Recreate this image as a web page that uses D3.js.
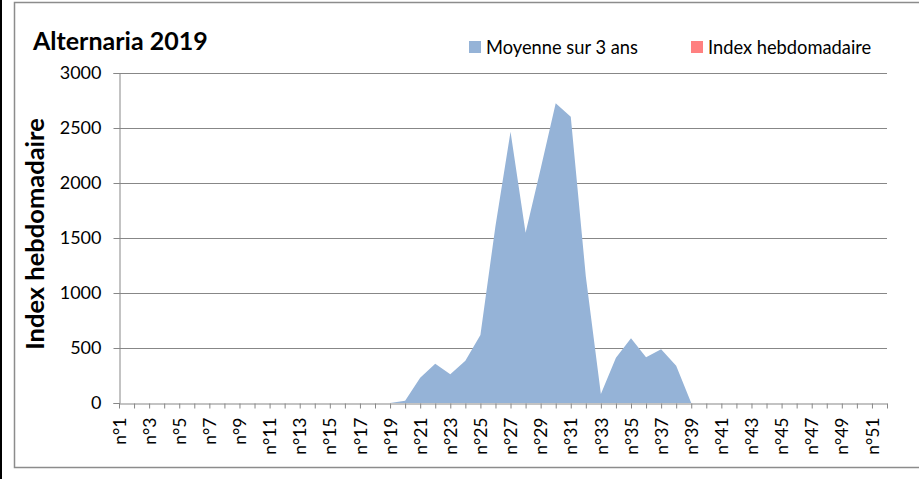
<!DOCTYPE html>
<html>
<head>
<meta charset="utf-8">
<script src="https://d3js.org/d3.v7.min.js"></script>
<style>
  body { margin: 0; background: #fff; }
  svg text { font-family: Lato, "Open Sans", sans-serif; fill: #000; }
</style>
</head>
<body>
<svg id="chart" width="919" height="479"></svg>
<script>
//===== Data =====================================================
const weeks = d3.range(1, 53).map((i) => "n°" + i);
// moyenne sur 3 ans, weeks n°1 .. n°52
const moyenne3ans = [
  0, 0, 0, 0, 0, 0, 0, 0, 0, 0,
  0, 0, 0, 0, 0, 0, 0, 0, 0, 20,
  230, 357, 261, 385, 618, 1610, 2467, 1548, 2130, 2724,
  2603, 1150, 82, 412, 588, 415, 488, 339, 0, 0,
  0, 0, 0, 0, 0, 0, 0, 0, 0, 0,
  0, 0,
];
// index hebdomadaire 2019: no values yet (legend only)
const indexHebdo = [];
const yTicks = [0, 500, 1000, 1500, 2000, 2500, 3000];
const seriesNames = ["Moyenne sur 3 ans", "Index hebdomadaire"];
const seriesColors = ["#95b3d7", "#ff8080"];

//===== Layout ===================================================
const svg = d3.select("#chart");
const margin = { top: 73, right: 32, bottom: 76, left: 119 };
const width = +svg.attr("width") - margin.left - margin.right,
  height = +svg.attr("height") - margin.top - margin.bottom;

// chart frame
svg
  .append("rect")
  .attr("x", 14.5)
  .attr("y", 2.5)
  .attr("width", 940)
  .attr("height", 465)
  .attr("fill", "none")
  .attr("stroke", "#8c8c8c")
  .attr("stroke-width", 1.5);
svg
  .append("line")
  .attr("x1", 1)
  .attr("x2", 1)
  .attr("y1", 0)
  .attr("y2", 479)
  .attr("stroke", "#000")
  .attr("stroke-width", 2);

const g = svg
  .append("g")
  .attr("transform", "translate(" + margin.left + "," + margin.top + ")");

const xScale = d3.scalePoint().domain(weeks).range([0, width]);
const yScale = d3.scaleLinear().domain([0, 3000]).range([height, 0]);

//===== Grid =====================================================
g.append("g")
  .selectAll("line")
  .data(yTicks.slice(1))
  .enter()
  .append("line")
  .attr("x1", 0)
  .attr("x2", width)
  .attr("y1", (d) => yScale(d) + 0.5)
  .attr("y2", (d) => yScale(d) + 0.5)
  .attr("stroke", "#878787");

//===== Areas ====================================================
const area = d3
  .area()
  .defined((d) => d != null)
  .x((d, i) => xScale(weeks[i]))
  .y0(yScale(0))
  .y1((d) => yScale(d));

g.append("path")
  .datum(moyenne3ans)
  .attr("d", area)
  .attr("fill", seriesColors[0]);

g.append("path")
  .datum(indexHebdo)
  .attr("d", area)
  .attr("fill", seriesColors[1]);

//===== Axes =====================================================
const yAxis = d3
  .axisLeft(yScale)
  .tickValues(yTicks)
  .tickFormat(d3.format("d"))
  .tickSize(6)
  .tickPadding(12);
const yAxisG = g.append("g").attr("transform", "translate(0.5,0)").call(yAxis);
yAxisG.selectAll("line, path").attr("stroke", "#878787");
yAxisG.selectAll("text").style("font-size", "18px");

const xAxis = d3
  .axisBottom(xScale)
  .tickSize(5)
  .tickSizeOuter(0)
  .tickFormat((d, i) => (i % 2 == 0 ? d : ""));
const xAxisG = g
  .append("g")
  .attr("transform", `translate(0,${height + 0.5})`)
  .call(xAxis);
xAxisG.selectAll("line, path").attr("stroke", "#878787");
xAxisG
  .selectAll("text")
  .style("font-size", "17.5px")
  .attr("text-anchor", "end")
  .attr("dy", "0.35em")
  .attr("y", 0)
  .attr("x", -14)
  .attr("transform", "rotate(-90)");

//===== Titles ===================================================
svg
  .append("text")
  .attr("x", 33)
  .attr("y", 50)
  .style("font-size", "25px")
  .style("font-weight", "bold")
  .text("Alternaria 2019");

svg
  .append("text")
  .attr("transform", "translate(44,234) rotate(-90)")
  .attr("text-anchor", "middle")
  .style("font-size", "25.5px")
  .style("font-weight", "bold")
  .text("Index hebdomadaire");

//===== Legend ===================================================
const legendX = [469, 691];
const legend = svg
  .selectAll(".legend")
  .data(seriesNames)
  .enter()
  .append("g")
  .attr("class", "legend")
  .attr("transform", (d, i) => `translate(${legendX[i]},41)`);
legend
  .append("rect")
  .attr("width", 12)
  .attr("height", 12)
  .attr("fill", (d, i) => seriesColors[i]);
legend
  .append("text")
  .attr("x", 17)
  .attr("y", 12.5)
  .style("font-size", "18.3px")
  .text((d) => d);
</script>
</body>
</html>
